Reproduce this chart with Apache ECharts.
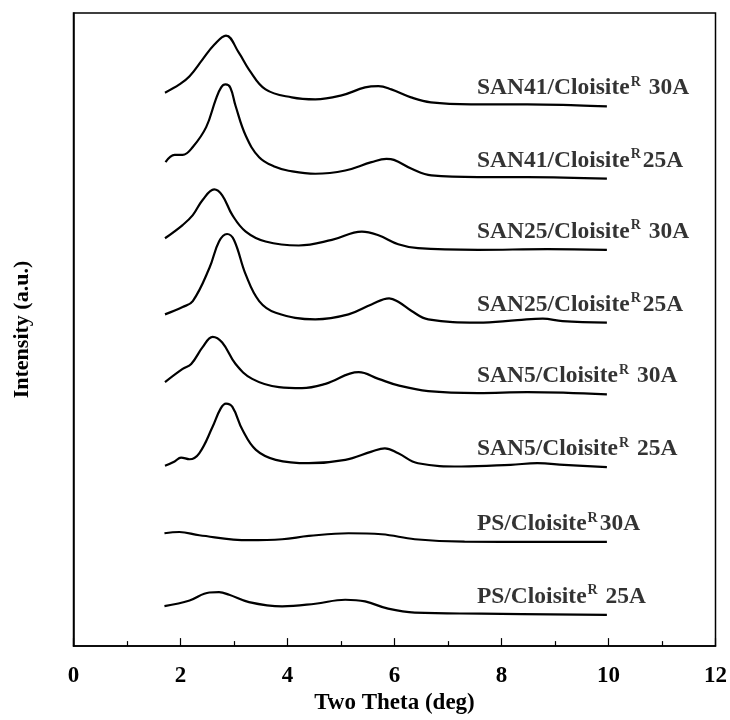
<!DOCTYPE html>
<html>
<head>
<meta charset="utf-8">
<script src="https://cdn.jsdelivr.net/npm/echarts@6/dist/echarts.min.js"></script>
<style>html,body{margin:0;padding:0;background:#fff;}#c{width:730px;height:720px;}</style>
</head>
<body>
<div id="c"></div>
<script>
// X tick values
const xTicks = [0, 2, 4, 6, 8, 10, 12];

// Series labels (top to bottom): [name, grade]
const labels = [
  ['SAN41/Cloisite', ' 30A'],
  ['SAN41/Cloisite', '25A'],
  ['SAN25/Cloisite', ' 30A'],
  ['SAN25/Cloisite', '25A'],
  ['SAN5/Cloisite', ' 30A'],
  ['SAN5/Cloisite', ' 25A'],
  ['PS/Cloisite', '30A'],
  ['PS/Cloisite', ' 25A']
];

// Offset intensity curves (a.u.), [2theta, intensity]
const san41_30a = [[1.71,557.7],[1.98,566],[2.17,574.3],[2.41,591],[2.63,606],[2.85,615.3],[3.09,598],[3.28,581],[3.59,561],[4.08,553],[4.52,551],[5.01,555],[5.45,563],[5.70,564.3],[5.94,561],[6.31,553],[6.68,548],[7.43,546],[8.48,546],[9.41,545],[9.97,544]];
const san41_25a = [[1.72,487.7],[1.89,495],[2.04,495],[2.23,503],[2.48,523],[2.66,551],[2.76,563],[2.84,566],[2.93,563],[3.03,544.3],[3.22,514.3],[3.47,492.7],[3.78,482.7],[4.02,479],[4.52,476],[5.08,479.3],[5.57,487.7],[5.85,491],[5.99,490],[6.32,481],[6.69,474.3],[7.56,472.7],[8.49,472.7],[9.97,471]];
const san25_30a = [[1.71,411],[2.04,424.3],[2.23,434.3],[2.41,449.3],[2.63,460.3],[2.78,454.3],[2.97,434.3],[3.22,417.7],[3.59,407.7],[4.21,403.7],[4.83,409.3],[5.39,417.7],[5.70,414],[6.07,405],[6.44,401],[7.56,399.3],[8.86,400],[9.97,399.3]];
const san25_25a = [[1.71,334.3],[2.04,341.7],[2.23,347.7],[2.54,381],[2.72,407.7],[2.87,415.3],[3.00,409.3],[3.22,374.3],[3.47,347.7],[3.78,336],[4.52,329.3],[5.14,334.3],[5.57,344.3],[5.90,350.5],[6.07,347],[6.32,337.7],[6.63,329.3],[7.56,326],[8.30,328.5],[8.77,330],[9.14,327.5],[9.97,326]];
const san5_30a = [[1.71,266],[2.04,279.3],[2.20,284.3],[2.41,301],[2.60,311.7],[2.78,306],[3.03,284.3],[3.34,269.3],[3.84,261],[4.27,260],[4.71,264.3],[5.33,276],[5.70,269.3],[6.07,262.7],[6.63,257],[7.56,255],[8.48,256],[9.97,253.7]];
const san5_25a = [[1.71,181.7],[1.89,186],[2.01,190],[2.17,188.3],[2.35,194.3],[2.60,221],[2.75,239.3],[2.85,244.3],[2.97,241],[3.16,217.7],[3.41,197.7],[3.78,187.7],[4.40,184.3],[5.08,187.7],[5.57,196],[5.82,199.3],[6.07,194.3],[6.44,184.3],[7.25,181],[8.17,182.7],[8.67,184.3],[9.17,182.7],[9.97,180.3]];
const ps_30a = [[1.70,113.7],[1.98,115],[2.35,111.7],[3.28,106.7],[3.90,107.7],[4.40,111],[5.14,113.7],[5.76,112.7],[6.38,107.7],[7.31,105.3],[8.67,105],[9.97,105]];
const ps_25a = [[1.70,40.3],[2.17,46],[2.54,54],[2.72,54.3],[2.91,51.7],[3.28,44.3],[3.90,40],[4.52,42.7],[5.08,46.7],[5.45,45],[5.88,37.7],[6.38,33.7],[7.62,32.7],[9.97,31.5]];

const curves = [san41_30a, san41_25a, san25_30a, san25_25a, san5_30a, san5_25a, ps_30a, ps_25a];

const FONT = '"Liberation Serif", "Times New Roman", serif';

const series = [];
curves.forEach((c, i) => {
  series.push({
    type: 'line', data: c, smooth: 0.4, showSymbol: false, symbol: 'none',
    lineStyle: {color: '#000', width: 2.2}, silent: true, animation: false
  });
  const last = c[c.length - 1];
  series.push({
    type: 'scatter', data: [last], symbolSize: 1,
    itemStyle: {color: 'transparent'}, silent: true, animation: false,
    label: {
      show: true, position: 'inside', align: 'left', verticalAlign: 'middle',
      offset: [-130, -18],
      formatter: () => '{a|' + labels[i][0] + '}{r|R}{a|' + labels[i][1] + '}',
      rich: {
        a: {fontFamily: FONT, fontWeight: 'bold', fontSize: 23.5, color: '#000', lineHeight: 26},
        r: {fontFamily: FONT, fontWeight: 'bold', fontSize: 14, color: '#000', verticalAlign: 'top', lineHeight: 26, padding: [0, 2, 13, 1]}
      }
    }
  });
});

const chart = echarts.init(document.getElementById('c'), null, {renderer: 'canvas'});
chart.setOption({
  animation: false,
  backgroundColor: '#fff',
  grid: {left: 73.5, right: 11, top: 13, bottom: 69, show: true, borderColor: '#000', borderWidth: 1.5, backgroundColor: 'transparent'},
  xAxis: {
    type: 'value', min: xTicks[0], max: xTicks[xTicks.length - 1], interval: 2,
    axisLine: {show: true, lineStyle: {color: '#000', width: 1.5}},
    axisTick: {show: true, inside: true, length: 8, lineStyle: {color: '#000', width: 1.2}},
    minorTick: {show: true, splitNumber: 2, length: 5, lineStyle: {color: '#000', width: 1.2}},
    splitLine: {show: false},
    axisLabel: {color: '#000', fontFamily: FONT, fontWeight: 'bold', fontSize: 23, margin: 18},
    name: 'Two Theta (deg)', nameLocation: 'middle', nameGap: 40,
    nameTextStyle: {color: '#000', fontFamily: FONT, fontWeight: 'bold', fontSize: 23}
  },
  yAxis: {
    type: 'value', min: 0, max: 638,
    axisLine: {show: true, lineStyle: {color: '#000', width: 1.5}},
    axisTick: {show: false}, axisLabel: {show: false}, splitLine: {show: false},
    name: 'Intensity (a.u.)', nameLocation: 'middle', nameGap: 40,
    nameTextStyle: {color: '#000', fontFamily: FONT, fontWeight: 'bold', fontSize: 22}
  },
  series: series
});
</script>
</body>
</html>
